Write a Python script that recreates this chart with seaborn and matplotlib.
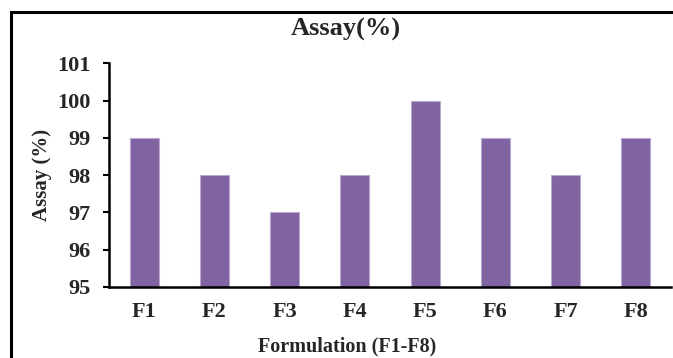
import matplotlib
matplotlib.use("Agg")
import matplotlib.pyplot as plt
import seaborn as sns
import pandas as pd
from matplotlib.patches import Rectangle

formulations = ["F1", "F2", "F3", "F4", "F5", "F6", "F7", "F8"]
assay = [99, 98, 97, 98, 100, 99, 98, 99]
y_ticks = [95, 96, 97, 98, 99, 100, 101]

sns.set_theme(style="white")
plt.rcParams["font.family"] = ["Liberation Serif", "DejaVu Serif"]
plt.rcParams["font.weight"] = "bold"

df = pd.DataFrame({"Formulation": formulations, "Assay": assay})

W, H = 673, 358
fig = plt.figure(figsize=(W / 100, H / 100), dpi=100)
ax = fig.add_axes([109 / W, 1 - 287 / H, 562 / W, (287 - 63.4) / H])

sns.barplot(data=df, x="Formulation", y="Assay", color="#8064A2",
            saturation=1, width=0.41, edgecolor="#B9A8CF", linewidth=0.8, ax=ax)

ax.set_ylim(95, 101)
ax.set_yticks(y_ticks)
ax.set_yticklabels([str(t) for t in y_ticks], fontsize=16, fontweight="bold")
ax.set_xticks(range(len(formulations)))
ax.set_xticklabels(formulations, fontsize=16, fontweight="bold")
ax.set_xlim(-0.5, len(formulations) - 0.5)

ax.tick_params(axis="y", left=True, length=4, width=1.5, pad=9, color="black")
ax.tick_params(axis="x", bottom=False, pad=5)

for side in ["top", "right"]:
    ax.spines[side].set_visible(False)
for side in ["left", "bottom"]:
    ax.spines[side].set_color("black")
    ax.spines[side].set_linewidth(1.8)

ax.set_xlabel("")
ax.set_ylabel("")
fig.text(347 / W, 1 - 346 / H, "Formulation (F1-F8)", ha="center", va="center",
         fontsize=14.5, fontweight="bold")
fig.text(42 / W, 1 - 175 / H, "Assay (%)", ha="center", va="center",
         rotation=90, fontsize=15, fontweight="bold")
fig.text(346 / W, 1 - 29 / H, "Assay(%)", ha="center", va="center",
         fontsize=19, fontweight="bold")

# Outer chart frame
fig.patches.append(Rectangle((11 / W, -0.2), 1.2, 1.2 - 12 / H,
                             transform=fig.transFigure, fill=False,
                             edgecolor="black", linewidth=2.2))

fig.savefig("out.png", dpi=100)
